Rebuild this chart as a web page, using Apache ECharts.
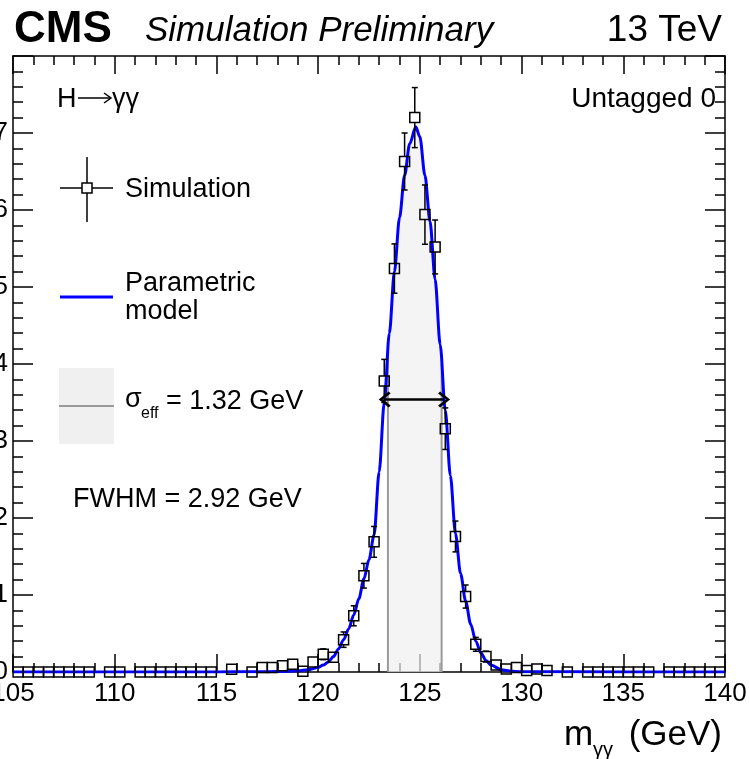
<!DOCTYPE html>
<html>
<head>
<meta charset="utf-8">
<script src="https://cdn.jsdelivr.net/npm/echarts@6/dist/echarts.min.js"></script>
<style>
  html, body { margin: 0; padding: 0; background: #ffffff; }
  #chart { width: 750px; height: 759px; }
</style>
</head>
<body>
<div id="chart"></div>
<script>
// Simulated m_gg distribution (0.5 GeV bins): bin centre, content, uncertainty
const binCenters = [
  105.25, 105.75, 106.25, 106.75, 107.25, 107.75, 108.25, 108.75,
  109.75, 110.25,
  111.25, 111.75, 112.25, 112.75, 113.25, 113.75, 114.25, 114.75,
  115.75, 116.75, 117.25, 117.75, 118.25, 118.75, 119.25, 119.75,
  120.25, 120.75, 121.25, 121.75, 122.25, 122.75, 123.25, 123.75,
  124.25, 124.75, 125.25, 125.75, 126.25, 126.75, 127.25, 127.75,
  128.25, 128.75, 129.25, 129.75, 130.25, 130.75, 131.25, 132.25,
  133.25, 133.75, 134.25, 134.75, 135.25, 135.75, 136.25,
  137.25, 137.75, 138.25, 138.75, 139.25, 139.75
];
const binValues = [
  0, 0, 0, 0, 0, 0, 0, 0,
  0, 0,
  0, 0, 0, 0, 0, 0, 0, 0,
  0.035, 0, 0.06, 0.06, 0.08, 0.10, 0.01, 0.13,
  0.23, 0.19, 0.42, 0.73, 1.25, 1.69, 3.78, 5.24,
  6.63, 7.20, 5.94, 5.52, 3.16, 1.76, 0.98, 0.36,
  0.20, 0.09, 0.04, 0.06, 0.02, 0.04, 0.02, 0,
  0, 0, 0, 0, 0, 0, 0,
  0, 0, 0, 0, 0, 0
];
const binErrors = [
  0.03, 0.03, 0.03, 0.03, 0.03, 0.03, 0.03, 0.03,
  0.03, 0.03,
  0.03, 0.03, 0.03, 0.03, 0.03, 0.03, 0.03, 0.03,
  0.03, 0.03, 0.04, 0.04, 0.05, 0.05, 0.02, 0.05,
  0.07, 0.06, 0.10, 0.13, 0.16, 0.20, 0.28, 0.32,
  0.37, 0.39, 0.385, 0.35, 0.27, 0.20, 0.15, 0.09,
  0.07, 0.05, 0.03, 0.03, 0.03, 0.03, 0.03, 0.03,
  0.03, 0.03, 0.03, 0.03, 0.03, 0.03, 0.03,
  0.03, 0.03, 0.03, 0.03, 0.03, 0.03
];

// Parametric signal model, sampled along m_gg
const modelMass = [
  105, 110, 115, 117, 118, 119, 119.5, 120, 120.25, 120.5, 120.75,
  121, 121.25, 121.5, 121.75, 122, 122.25, 122.5, 122.75, 123, 123.25,
  123.5, 123.75, 124, 124.25, 124.5, 124.8, 125, 125.25, 125.5, 125.75,
  126, 126.25, 126.5, 126.75, 127, 127.25, 127.5, 127.75, 128, 128.25,
  128.5, 129, 129.5, 130, 135, 140
];
const modelValue = [
  0, 0, 0.001, 0.003, 0.006, 0.015, 0.03, 0.06, 0.09, 0.13, 0.20,
  0.30, 0.42, 0.56, 0.74, 0.95, 1.21, 1.46, 1.78, 2.60, 3.50,
  4.40, 5.20, 5.90, 6.45, 6.86, 7.08, 6.95, 6.45, 5.85, 5.10,
  4.25, 3.40, 2.55, 1.80, 1.28, 0.92, 0.62, 0.40, 0.25, 0.15,
  0.09, 0.03, 0.01, 0.004, 0, 0
];

// Effective-sigma window (shaded) and its model heights at the edges
const sigmaEffEdges = [123.43, 126.07];
const sigmaEffEdgeValues = [4.15, 4.0];
// Full width at half maximum
const fwhmEdges = [123.27, 126.19];
const halfMaxValue = 3.54;

// Axis ticks
const xTickValues = [105, 110, 115, 120, 125, 130, 135, 140];
const yTickValues = [0, 1, 2, 3, 4, 5, 6, 7, 8];

const FONT = "'Liberation Sans', Arial, Helvetica, sans-serif";

const pointData = binCenters.map((c, i) => [c, binValues[i], binErrors[i]]);
const modelData = modelMass.map((m, i) => [m, modelValue[i]]);
const bandData = [[sigmaEffEdges[0], sigmaEffEdgeValues[0]]]
  .concat(modelData.filter(p => p[0] > sigmaEffEdges[0] && p[0] < sigmaEffEdges[1]))
  .concat([[sigmaEffEdges[1], sigmaEffEdgeValues[1]]]);

const xMin = xTickValues[0], xMax = xTickValues[xTickValues.length - 1];
const xStep = xTickValues[1] - xTickValues[0];
const yMin = yTickValues[0], yMax = yTickValues[yTickValues.length - 1];
const yStep = yTickValues[1] - yTickValues[0];

const tickStyle = { color: '#000', width: 1.5 };

function xAxisDef(pos) {
  return {
    type: 'value', position: pos, min: xMin, max: xMax, interval: xStep,
    axisLine: { show: true, onZero: false, lineStyle: { color: '#000', width: 1.5 } },
    axisTick: { show: true, inside: true, length: 18, lineStyle: tickStyle },
    minorTick: { show: true, splitNumber: 5, length: 9, lineStyle: tickStyle },
    axisLabel: pos === 'bottom'
      ? { show: true, fontSize: 26, color: '#000', fontFamily: FONT, margin: 9 }
      : { show: false },
    splitLine: { show: false }, minorSplitLine: { show: false }
  };
}
function yAxisDef(pos) {
  return {
    type: 'value', position: pos, min: yMin, max: yMax, interval: yStep,
    axisLine: { show: true, onZero: false, lineStyle: { color: '#000', width: 1.5 } },
    axisTick: { show: true, inside: true, length: 20, lineStyle: tickStyle },
    minorTick: { show: true, splitNumber: 5, length: 10, lineStyle: tickStyle },
    axisLabel: pos === 'left'
      ? { show: true, fontSize: 26, color: '#000', fontFamily: FONT, margin: 5, showMaxLabel: false }
      : { show: false },
    splitLine: { show: false }, minorSplitLine: { show: false }
  };
}

// Open-chevron arrow head (points up in its own frame)
const chevron = 'path://M8,0 L16,10 L14,12 L8,4 L2,12 L0,10 Z';

const chart = echarts.init(document.getElementById('chart'), null, { renderer: 'canvas' });

chart.setOption({
  animation: false,
  backgroundColor: '#ffffff',
  grid: { left: 13, right: 25, top: 56, bottom: 87, containLabel: false, outerBoundsMode: 'none' },
  xAxis: [xAxisDef('bottom'), xAxisDef('top')],
  yAxis: [yAxisDef('left'), yAxisDef('right')],
  series: [
    {
      // shaded sigma_eff window under the model
      type: 'line', data: bandData, smooth: 0.3, smoothMonotone: 'x',
      showSymbol: false, silent: true, z: 1,
      lineStyle: { width: 0, color: '#f0f0f0' },
      areaStyle: { color: '#f0f0f0', origin: 'start' }
    },
    {
      type: 'line', data: [[sigmaEffEdges[0], 0], [sigmaEffEdges[0], sigmaEffEdgeValues[0]]],
      showSymbol: false, silent: true, z: 2,
      lineStyle: { color: '#9a9a9a', width: 2 }
    },
    {
      type: 'line', data: [[sigmaEffEdges[1], 0], [sigmaEffEdges[1], sigmaEffEdgeValues[1]]],
      showSymbol: false, silent: true, z: 2,
      lineStyle: { color: '#9a9a9a', width: 2 }
    },
    {
      // parametric model
      type: 'line', data: modelData, smooth: 0.3, smoothMonotone: 'x',
      showSymbol: false, silent: true, z: 3, clip: true,
      lineStyle: { color: '#0000ff', width: 3 },
      markLine: {
        silent: true, animation: false,
        symbol: [chevron, chevron], symbolSize: [16, 12],
        label: { show: false },
        lineStyle: { color: '#000', width: 2.5, type: 'solid' },
        data: [[{ coord: [fwhmEdges[0], halfMaxValue] }, { coord: [fwhmEdges[1], halfMaxValue] }]]
      }
    },
    {
      // simulated points with vertical error bars
      type: 'custom', data: pointData, z: 4, clip: false, silent: true,
      encode: { x: 0, y: 1 },
      renderItem: function (params, api) {
        const x = api.value(0), y = api.value(1), e = api.value(2);
        const c = api.coord([x, y]);
        const top = api.coord([x, y + e]);
        const bot = api.coord([x, y - e]);
        const h = 5, cap = 3;
        const st = { stroke: '#000', lineWidth: 1.5 };
        const kids = [];
        if (top[1] < c[1] - h) {
          kids.push({ type: 'line', shape: { x1: c[0], y1: c[1] - h, x2: c[0], y2: top[1] }, style: st });
          kids.push({ type: 'line', shape: { x1: c[0] - cap, y1: top[1], x2: c[0] + cap, y2: top[1] }, style: st });
        }
        if (bot[1] > c[1] + h) {
          kids.push({ type: 'line', shape: { x1: c[0], y1: c[1] + h, x2: c[0], y2: bot[1] }, style: st });
          kids.push({ type: 'line', shape: { x1: c[0] - cap, y1: bot[1], x2: c[0] + cap, y2: bot[1] }, style: st });
        }
        kids.push({ type: 'rect', shape: { x: c[0] - h, y: c[1] - h, width: 2 * h, height: 2 * h },
          style: { fill: 'none', stroke: '#000', lineWidth: 1.5 } });
        return { type: 'group', children: kids };
      }
    }
  ],
  graphic: [
    { type: 'text', left: 14, top: 8, style: { text: 'CMS', font: "bold 44px " + FONT, fill: '#000' } },
    { type: 'text', left: 145, top: 14, style: { text: 'Simulation Preliminary', font: "italic 35px " + FONT, fill: '#000' } },
    { type: 'text', right: 28, top: 12, style: { text: '13 TeV', font: "37px " + FONT, fill: '#000' } },

    // process label
    { type: 'text', left: 57, top: 86, style: { text: 'H', font: "27px " + FONT, fill: '#000' } },
    { type: 'polyline', shape: { points: [[78, 98], [111, 98]] }, style: { stroke: '#000', lineWidth: 1.5, fill: null } },
    { type: 'polyline', shape: { points: [[104, 93], [111, 98], [104, 103]] }, style: { stroke: '#000', lineWidth: 1.5, fill: null } },
    { type: 'text', left: 112, top: 86, style: { text: '\u03b3\u03b3', font: "27px " + FONT, fill: '#000' } },
    { type: 'text', right: 34, top: 85, style: { text: 'Untagged 0', font: "28px " + FONT, fill: '#000' } },

    // legend: simulation
    { type: 'line', shape: { x1: 60, y1: 188, x2: 113, y2: 188 }, style: { stroke: '#000', lineWidth: 1.5 } },
    { type: 'line', shape: { x1: 87, y1: 157, x2: 87, y2: 222 }, style: { stroke: '#000', lineWidth: 1.5 } },
    { type: 'rect', shape: { x: 82, y: 183, width: 10, height: 10 }, style: { fill: '#fff', stroke: '#000', lineWidth: 1.5 } },
    { type: 'text', left: 125, top: 176, style: { text: 'Simulation', font: "27px " + FONT, fill: '#000' } },

    // legend: model
    { type: 'line', shape: { x1: 60, y1: 297, x2: 113, y2: 297 }, style: { stroke: '#0000ff', lineWidth: 3 } },
    { type: 'text', left: 125, top: 270, style: { text: 'Parametric', font: "27px " + FONT, fill: '#000' } },
    { type: 'text', left: 125, top: 298, style: { text: 'model', font: "27px " + FONT, fill: '#000' } },

    // legend: sigma_eff window
    { type: 'rect', shape: { x: 59, y: 368, width: 55, height: 76 }, style: { fill: '#f0f0f0' } },
    { type: 'line', shape: { x1: 59, y1: 406, x2: 114, y2: 406 }, style: { stroke: '#9a9a9a', lineWidth: 2 } },
    { type: 'text', left: 125, top: 386, style: { text: '\u03c3', font: "27px " + FONT, fill: '#000' } },
    { type: 'text', left: 141, top: 406, style: { text: 'eff', font: "16px " + FONT, fill: '#000' } },
    { type: 'text', left: 166, top: 388, style: { text: '= 1.32 GeV', font: "27px " + FONT, fill: '#000' } },

    { type: 'text', left: 73, top: 486, style: { text: 'FWHM = 2.92 GeV', font: "27px " + FONT, fill: '#000' } },

    // x-axis title
    { type: 'text', left: 564, top: 718, style: { text: 'm', font: "35px " + FONT, fill: '#000' } },
    { type: 'text', left: 593, top: 740, style: { text: '\u03b3\u03b3', font: "20px " + FONT, fill: '#000' } },
    { type: 'text', right: 28, top: 718, style: { text: '(GeV)', font: "35px " + FONT, fill: '#000' } }
  ]
});
</script>
</body>
</html>
